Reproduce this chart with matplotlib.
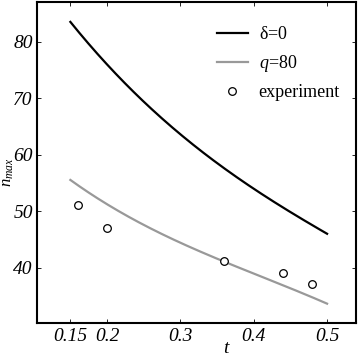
import matplotlib
matplotlib.use('Agg')
import matplotlib.pyplot as plt
import numpy as np

# curve values
t_curve = [0.15, 0.2, 0.25, 0.3, 0.35, 0.4, 0.45, 0.5]
n_delta0 = [83.5, 76.0, 69.3, 63.6, 58.6, 53.9, 49.8, 46.0]
n_q80 = [55.5, 51.2, 47.7, 44.2, 41.6, 39.0, 36.3, 33.6]

# experimental points
t_exp = [0.16, 0.2, 0.36, 0.44, 0.48]
n_exp = [51.1, 47.0, 41.1, 39.0, 37.0]

xticks = [0.15, 0.2, 0.3, 0.4, 0.5]
xtick_labels = ['0.15', '0.2', '0.3', '0.4', '0.5']
yticks = [40, 50, 60, 70, 80]

plt.rcParams['font.family'] = ['Liberation Serif', 'DejaVu Serif']
plt.rcParams['mathtext.fontset'] = 'custom'
plt.rcParams['mathtext.rm'] = 'Liberation Serif'
plt.rcParams['mathtext.it'] = 'Liberation Serif:italic'

fig = plt.figure(figsize=(3.61, 3.57), dpi=100)
ax = fig.add_axes([0.1025, 0.094, 0.884, 0.9])

# smooth line through the read points
ts = np.linspace(0.15, 0.5, 200)
fit_d = np.polyval(np.polyfit(t_curve, n_delta0, 3), ts)
fit_q = np.polyval(np.polyfit(t_curve, n_q80, 3), ts)
ax.plot(ts, fit_d, color='black', lw=1.6, label='δ=$\\mathit{0}$')
ax.plot(ts, fit_q, color='#999999', lw=1.6,
        label='$\\mathit{q}$=$\\mathit{80}$')
ax.plot(t_exp, n_exp, 'o', mfc='white', mec='black', mew=0.9, ms=5.5,
        label='experiment')

ax.set_xlim(0.1045, 0.5396)
ax.set_ylim(30.1, 87.0)
ax.set_xticks(xticks)
ax.set_xticklabels(xtick_labels)
ax.set_yticks(yticks)
for lab in ax.get_xticklabels() + ax.get_yticklabels():
    lab.set_fontstyle('italic')
    lab.set_fontsize(14)
ax.tick_params(direction='in', length=3, width=0.6, top=True, right=True)
ax.tick_params(axis='x', pad=3)
ax.tick_params(axis='y', pad=3)

for s in ax.spines.values():
    s.set_linewidth(1.5)

ax.set_xlabel('$t$', fontsize=14)
ax.xaxis.set_label_coords(0.595, -0.05)
ax.set_ylabel('$n_{max}$', fontsize=12)
ax.yaxis.set_label_coords(-0.066, 0.47)

ax.legend(loc='upper right', bbox_to_anchor=(1.0, 0.975), frameon=False,
          fontsize=13, handlelength=1.7, handletextpad=0.6, labelspacing=0.55)

fig.savefig('out.png', dpi=100)
